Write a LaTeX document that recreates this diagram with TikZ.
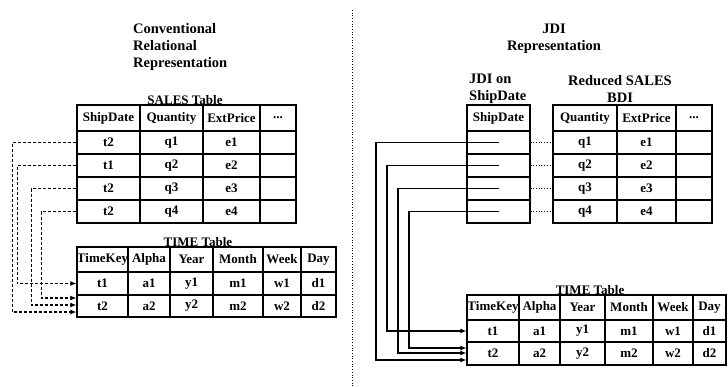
\documentclass[tikz,border=0pt]{standalone}
\usepackage{fontspec}
\setmainfont{Liberation Serif}
\usetikzlibrary{arrows.meta,positioning}

\newcommand{\tabfont}{\fontsize{13}{15}\selectfont\bfseries}
\newcommand{\labfont}{\fontsize{14.5}{17}\selectfont\bfseries}

\begin{document}
\begin{tikzpicture}[x=1pt,y=-1pt,
  cell/.style 2 args={draw,line width=1.2pt,inner sep=0pt,font=\tabfont,minimum width=#1,minimum height=#2},
  lab/.style={inner sep=0pt,font=\labfont},
  tabcap/.style={inner sep=0pt,font=\tabfont},
  dashlink/.style={line width=1.1pt,dash pattern=on 3pt off 2pt,-{Latex[length=6pt,width=5pt]}},
  solidlink/.style={line width=1.1pt,-{Latex[length=6pt,width=5pt]}},
  dotlink/.style={line width=0.7pt,dotted}]
\useasboundingbox (0,0) rectangle (728,386);

% titles
\node[lab,align=left,anchor=west] (ttlconv) at (133,47) {Conventional\\Relational\\Representation};
\node[lab,align=center] (ttljdi) at (554,39) {JDI\\Representation};
\node[lab,align=left,anchor=west] (labjdi) at (469,89) {JDI on\\ShipDate};
\node[lab,align=center] (labbdi) at (620,89) {Reduced SALES\\BDI};
\draw[dotlink] (352,10) -- (352,386);

% left SALES table
\node[tabcap] (capsales) at (185,100) {SALES Table};
\node[cell={63}{26}] (s00) at (108.5,118) {ShipDate};
\node[cell={63}{26}] (s01) at (171.5,118) {Quantity};
\node[cell={57}{26}] (s02) at (231.5,118) {ExtPrice};
\node[cell={36}{26}] (s03) at (278,118) {...};
\node[cell={63}{23}] (s10) at (108.5,142.5) {t2};
\node[cell={63}{23}] (s11) at (171.5,142.5) {q1};
\node[cell={57}{23}] (s12) at (231.5,142.5) {e1};
\node[cell={36}{23}] (s13) at (278,142.5) {};
\node[cell={63}{23}] (s20) at (108.5,165.5) {t1};
\node[cell={63}{23}] (s21) at (171.5,165.5) {q2};
\node[cell={57}{23}] (s22) at (231.5,165.5) {e2};
\node[cell={36}{23}] (s23) at (278,165.5) {};
\node[cell={63}{23}] (s30) at (108.5,188.5) {t2};
\node[cell={63}{23}] (s31) at (171.5,188.5) {q3};
\node[cell={57}{23}] (s32) at (231.5,188.5) {e3};
\node[cell={36}{23}] (s33) at (278,188.5) {};
\node[cell={63}{23}] (s40) at (108.5,211.5) {t2};
\node[cell={63}{23}] (s41) at (171.5,211.5) {q4};
\node[cell={57}{23}] (s42) at (231.5,211.5) {e4};
\node[cell={36}{23}] (s43) at (278,211.5) {};

% left TIME table
\node[tabcap] (captime) at (198,242) {TIME Table};
\node[cell={51}{25}] (t00) at (102.5,259.5) {TimeKey};
\node[cell={42}{25}] (t01) at (149,259.5) {Alpha};
\node[cell={43}{25}] (t02) at (191.5,259.5) {Year};
\node[cell={50}{25}] (t03) at (238,259.5) {Month};
\node[cell={38}{25}] (t04) at (282,259.5) {Week};
\node[cell={35}{25}] (t05) at (318.5,259.5) {Day};
\node[cell={51}{23}] (t10) at (102.5,283.5) {t1};
\node[cell={42}{23}] (t11) at (149,283.5) {a1};
\node[cell={43}{23}] (t12) at (191.5,283.5) {y1};
\node[cell={50}{23}] (t13) at (238,283.5) {m1};
\node[cell={38}{23}] (t14) at (282,283.5) {w1};
\node[cell={35}{23}] (t15) at (318.5,283.5) {d1};
\node[cell={51}{22}] (t20) at (102.5,306) {t2};
\node[cell={42}{22}] (t21) at (149,306) {a2};
\node[cell={43}{22}] (t22) at (191.5,306) {y2};
\node[cell={50}{22}] (t23) at (238,306) {m2};
\node[cell={38}{22}] (t24) at (282,306) {w2};
\node[cell={35}{22}] (t25) at (318.5,306) {d2};

% foreign keys, conventional
\draw[dashlink] (s10.west) -- ++(-64,0) |- ([yshift=-6pt]t20.west);
\draw[dashlink] (s20.west) -- ++(-59,0) |- (t10.west);
\draw[dashlink] (s30.west) -- ++(-45,0) |- ([yshift=1pt]t20.west);
\draw[dashlink] (s40.west) -- ++(-35,0) |- ([yshift=8pt]t20.west);

% JDI column
\node[cell={63}{26}] (j0) at (498.5,118) {ShipDate};
\node[cell={63}{23}] (j1) at (498.5,142.5) {};
\node[cell={63}{23}] (j2) at (498.5,165.5) {};
\node[cell={63}{23}] (j3) at (498.5,188.5) {};
\node[cell={63}{23}] (j4) at (498.5,211.5) {};

% reduced SALES BDI
\node[cell={64}{26}] (r00) at (585,118) {Quantity};
\node[cell={59}{26}] (r01) at (646.5,118) {ExtPrice};
\node[cell={36}{26}] (r02) at (694,118) {...};
\node[cell={64}{23}] (r10) at (585,142.5) {q1};
\node[cell={59}{23}] (r11) at (646.5,142.5) {e1};
\node[cell={36}{23}] (r12) at (694,142.5) {};
\node[cell={64}{23}] (r20) at (585,165.5) {q2};
\node[cell={59}{23}] (r21) at (646.5,165.5) {e2};
\node[cell={36}{23}] (r22) at (694,165.5) {};
\node[cell={64}{23}] (r30) at (585,188.5) {q3};
\node[cell={59}{23}] (r31) at (646.5,188.5) {e3};
\node[cell={36}{23}] (r32) at (694,188.5) {};
\node[cell={64}{23}] (r40) at (585,211.5) {q4};
\node[cell={59}{23}] (r41) at (646.5,211.5) {e4};
\node[cell={36}{23}] (r42) at (694,211.5) {};
\draw[dotlink] (j1.east) -- (r10.west);
\draw[dotlink] (j2.east) -- (r20.west);
\draw[dotlink] (j3.east) -- (r30.west);
\draw[dotlink] (j4.east) -- (r40.west);

% right TIME table
\node[tabcap] (captime2) at (590,290) {TIME Table};
\node[cell={52}{25}] (u00) at (493,307.5) {TimeKey};
\node[cell={41}{25}] (u01) at (539.5,307.5) {Alpha};
\node[cell={45}{25}] (u02) at (582.5,307.5) {Year};
\node[cell={48}{25}] (u03) at (629,307.5) {Month};
\node[cell={40}{25}] (u04) at (673,307.5) {Week};
\node[cell={33}{25}] (u05) at (709.5,307.5) {Day};
\node[cell={52}{22}] (u10) at (493,331) {t1};
\node[cell={41}{22}] (u11) at (539.5,331) {a1};
\node[cell={45}{22}] (u12) at (582.5,331) {y1};
\node[cell={48}{22}] (u13) at (629,331) {m1};
\node[cell={40}{22}] (u14) at (673,331) {w1};
\node[cell={33}{22}] (u15) at (709.5,331) {d1};
\node[cell={52}{23}] (u20) at (493,353.5) {t2};
\node[cell={41}{23}] (u21) at (539.5,353.5) {a2};
\node[cell={45}{23}] (u22) at (582.5,353.5) {y2};
\node[cell={48}{23}] (u23) at (629,353.5) {m2};
\node[cell={40}{23}] (u24) at (673,353.5) {w2};
\node[cell={33}{23}] (u25) at (709.5,353.5) {d2};

% join index pointers
\draw[solidlink] (j1.center) -- ++(-122.5,0) |- ([yshift=-6.5pt]u20.west);
\draw[solidlink] (j2.center) -- ++(-111.5,0) |- (u10.west);
\draw[solidlink] (j3.center) -- ++(-100.5,0) |- ([yshift=0.5pt]u20.west);
\draw[solidlink] (j4.center) -- ++(-89.5,0) |- ([yshift=5.5pt]u20.west);
\end{tikzpicture}
\end{document}
